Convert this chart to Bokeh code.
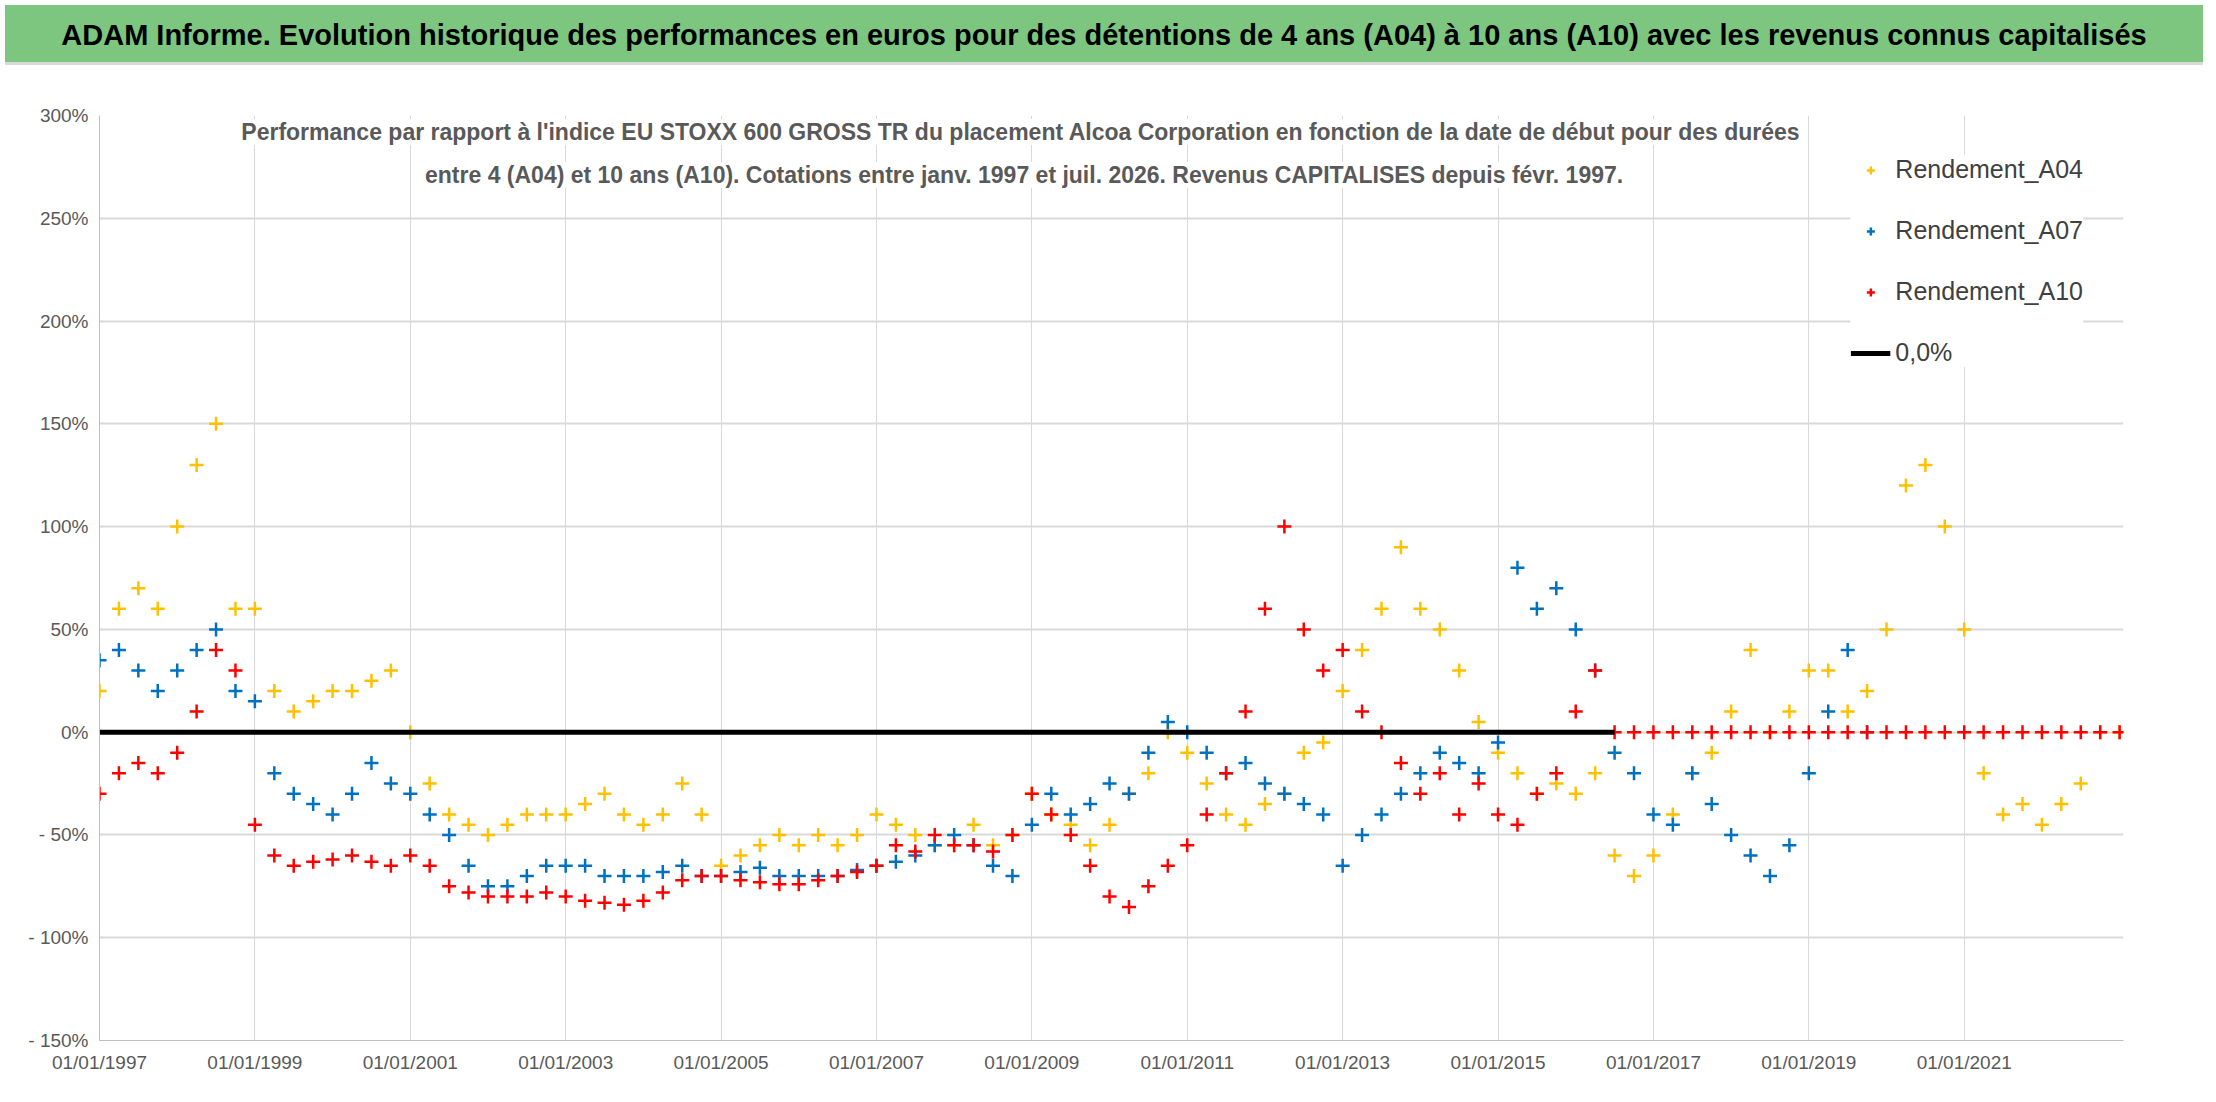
import numpy as np
from bokeh.plotting import figure
from bokeh.layouts import column
from bokeh.models import FixedTicker, Range1d, Legend, LegendItem, Label, Div
from bokeh.embed import file_html
from bokeh.resources import INLINE

years_q = [1997 + i * 0.25 for i in range(105)]  # 1997.0 .. 2023.0

a04 = [20,60,70,60, 100,130,150,60, 60,20,10,15, 20,20,25,30, 0,-25,-40,-45,
       -50,-45,-40,-40, -40,-35,-30,-40, -45,-40,-25,-40, -65,-60,-55,-50, -55,-50,-55,-50,
       -40,-45,-50,-55, -55,-45,-55,-50, -30,-40,-45,-55, -45,-30,-20,0, -10,-25,-40,-45,
       -35,-30,-10,-5, 20,40,60,90, 60,50,30,5, -10,-20,-30,-25, -30,-20,-60,-70,
       -60,-40,-20,-10, 10,40,0,10, 30,30,10,20, 50,120,130,100, 50,-20,-40,-35,
       -45,-35,-25,0, 0]
a07 = [35,40,30,20, 30,40,50,20, 15,-20,-30,-35, -40,-30,-15,-25, -30,-40,-50,-65,
       -75,-75,-70,-65, -65,-65,-70,-70, -70,-68,-65,-70, -70,-68,-66,-70, -70,-70,-70,-67,
       -65,-63,-60,-55, -50,-55,-65,-70, -45,-30,-40,-35, -25,-30,-10,5, 0,-10,-20,-15,
       -25,-30,-35,-40, -65,-50,-40,-30, -20,-10,-15,-20, -5,80,60,70, 50,30,-10,-20,
       -40,-45,-20,-35, -50,-60,-70,-55, -20,10,40,0]
a10 = [-30,-20,-15,-20, -10,10,40,30, -45,-60,-65,-63, -62,-60,-63,-65, -60,-65,-75,-78,
       -80,-80,-80,-78, -80,-82,-83,-84, -82,-78,-72,-70, -70,-72,-73,-74, -74,-72,-70,-68,
       -65,-55,-58,-50, -55,-55,-58,-50, -30,-40,-50,-65, -80,-85,-75,-65, -55,-40,-20,10,
       60,100,50,30, 40,10,0,-15, -30,-20,-40,-25, -40,-45,-30,-20, 10,30,0,0,
       0,0,0,0, 0,0,0,0, 0,0,0,0, 0,0,0,0, 0,0,0,0, 0,0,0,0, 0]
zero_x = [1997.0, 2016.5]
zero_y = [0, 0]
tick_years = list(range(1997, 2023, 2))

FONT = "Liberation Sans"
TITLE = "ADAM Informe. Evolution historique des performances en euros pour des détentions de 4 ans (A04) à 10 ans (A10) avec les revenus connus capitalisés"

banner = Div(text=TITLE, width=2198, height=60,
             styles={"background-color": "#7DC67F", "font-family": FONT, "font-size": "29px",
                     "font-weight": "bold", "color": "black", "text-align": "center",
                     "line-height": "60px", "width": "2198px", "white-space": "nowrap",
                     "border-bottom": "3px solid #D9D9D9"})

p = figure(width=2198, height=1020, output_backend="svg", toolbar_location=None,
           x_range=Range1d(1997, 2023.05), y_range=Range1d(-150, 300),
           min_border_left=99, min_border_right=75, min_border_top=45, min_border_bottom=50)

x4 = np.array(years_q[:len(a04)]); y4 = np.array(a04, dtype=float)
x7 = np.array(years_q[:len(a07)]); y7 = np.array(a07, dtype=float)
x10 = np.array(years_q[:len(a10)]); y10 = np.array(a10, dtype=float)

r4 = p.scatter(x4, y4, marker="cross", size=14, line_color="#FFC000", line_width=2.5)
r7 = p.scatter(x7, y7, marker="cross", size=14, line_color="#0070C0", line_width=2.5)
r10 = p.scatter(x10, y10, marker="cross", size=14, line_color="#FF0000", line_width=2.5)
rz = p.line(zero_x, zero_y, line_color="black", line_width=5)

p.xaxis.ticker = FixedTicker(ticks=tick_years)
p.xaxis.major_label_overrides = {y: "01/01/%d" % y for y in tick_years}
p.yaxis.ticker = FixedTicker(ticks=list(range(-150, 301, 50)))
p.yaxis.major_label_overrides = {v: ("%d%%" % v) if v >= 0 else "- %d%%" % (-v) for v in range(-150, 301, 50)}
for ax in (p.xaxis[0], p.yaxis[0]):
    ax.major_label_text_font = FONT
    ax.major_label_text_font_size = "19px"
    ax.major_label_text_color = "#595959"
    ax.axis_line_color = "#BFBFBF"
    ax.major_tick_line_color = None
    ax.minor_tick_line_color = None
p.xgrid.grid_line_color = "#D9D9D9"
p.ygrid.grid_line_color = "#D9D9D9"
p.ygrid.grid_line_width = 2
p.outline_line_color = None

for yy, txt in [(292, "Performance par rapport à l'indice EU STOXX 600 GROSS TR  du placement Alcoa Corporation en fonction de la date de début pour des durées"),
                (271, "entre 4 (A04) et 10 ans (A10). Cotations entre janv. 1997 et juil. 2026. Revenus CAPITALISES depuis févr. 1997.")]:
    p.add_layout(Label(x=2008.9, y=yy, text=txt, text_align="center", text_baseline="middle",
                       text_font=FONT, text_font_size="23px", text_font_style="bold",
                       text_color="#595959", background_fill_color="white"))

legend = Legend(items=[LegendItem(label="Rendement_A04", renderers=[r4]),
                       LegendItem(label="Rendement_A07", renderers=[r7]),
                       LegendItem(label="Rendement_A10", renderers=[r10]),
                       LegendItem(label="0,0%", renderers=[rz])],
                location="top_right", label_text_font=FONT, label_text_font_size="25px",
                label_text_color="#404040", spacing=32, border_line_color=None,
                background_fill_alpha=1, margin=40, glyph_width=40, padding=20)
p.add_layout(legend)

open("out.html", "w").write(file_html(column(banner, p, spacing=0), INLINE))
